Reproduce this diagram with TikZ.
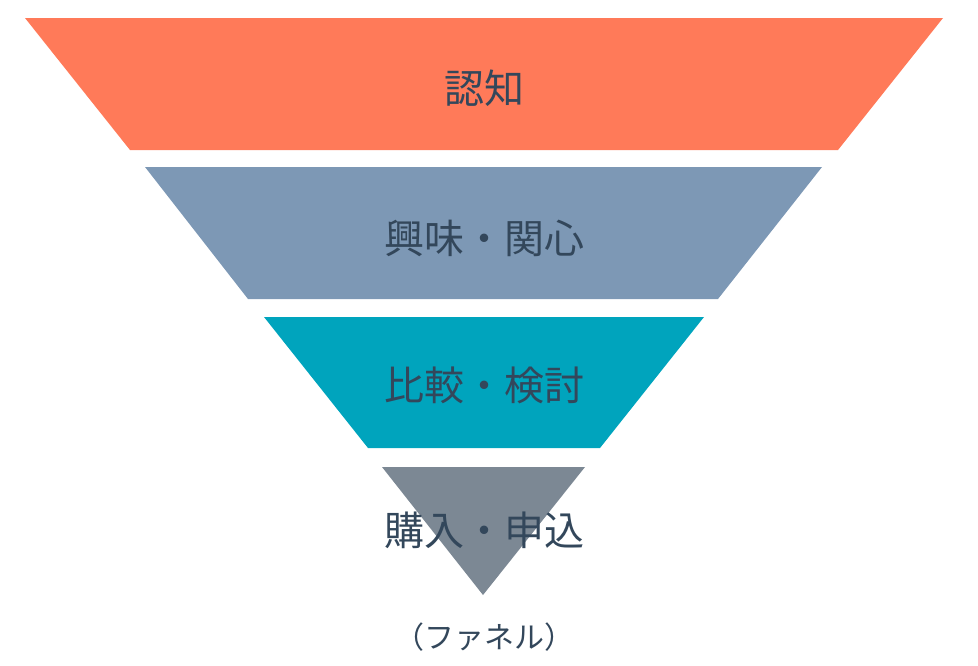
\documentclass[tikz,border=0pt]{standalone}
\usepackage{fontspec}
\newfontfamily\cjk{Noto Sans CJK JP}
\definecolor{c1}{HTML}{FF7A59}
\definecolor{c2}{HTML}{7D98B5}
\definecolor{c3}{HTML}{00A4BD}
\definecolor{c4}{HTML}{7C8894}
\definecolor{tx}{HTML}{33475B}
\tikzset{lbl/.style={text=tx,font=\cjk\fontsize{40}{44}\selectfont,inner sep=0pt},
cap2/.style={text=tx,font=\cjk\fontsize{30}{34}\selectfont,inner sep=0pt}}
\begin{document}
\begin{tikzpicture}[x=1pt,y=-1pt]
\useasboundingbox (0,0) rectangle (978,665);
\fill[c1] (25,18) -- (943,18) -- (838,150) -- (130,150) -- cycle;
\fill[c2] (145,167) -- (822,167) -- (718,299) -- (248,299) -- cycle;
\fill[c3] (264,317) -- (704,317) -- (600,448) -- (368,448) -- cycle;
\fill[c4] (382,467) -- (585,467) -- (483,595) -- cycle;
\node[lbl] (a) at (484,88) {認知};
\node[lbl] (b) at (484,238) {興味・関心};
\node[lbl] (c) at (484,385) {比較・検討};
\node[lbl] (d) at (484,530) {購入・申込};
\node[cap2] (e) at (484,637) {（ファネル）};
\end{tikzpicture}
\end{document}
